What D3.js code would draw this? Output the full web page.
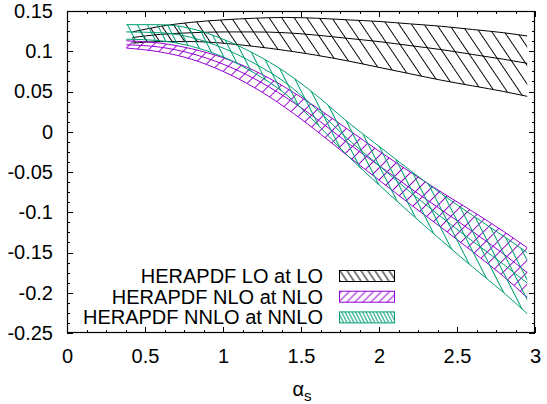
<!DOCTYPE html>
<html><head><meta charset="utf-8">
<script src="https://cdn.jsdelivr.net/npm/d3@7"></script>
<style>body{margin:0;background:#fff} text{font-family:"Liberation Sans",Arial,Helvetica,sans-serif;fill:#000}</style>
</head><body><svg id="c" width="547" height="404" xmlns="http://www.w3.org/2000/svg"></svg>
<script>
// ---- data ----
const alphaLO  = [0.42, 0.6, 0.8, 1.0, 1.2, 1.4, 1.6, 1.8, 2.0, 2.2, 2.4, 2.6, 2.8, 2.95];
const alphaHO  = [0.38, 0.6, 0.8, 1.0, 1.2, 1.4, 1.6, 1.8, 2.0, 2.2, 2.4, 2.6, 2.8, 2.95];
const loUpper   = [0.124, 0.131, 0.136, 0.139, 0.141, 0.142, 0.141, 0.139, 0.137, 0.134, 0.131, 0.127, 0.123, 0.119];
const loCentral = [0.117, 0.121, 0.123, 0.124, 0.124, 0.123, 0.120, 0.116, 0.112, 0.107, 0.102, 0.096, 0.090, 0.085];
const loLower   = [0.110, 0.112, 0.112, 0.110, 0.106, 0.101, 0.095, 0.088, 0.080, 0.072, 0.064, 0.057, 0.050, 0.044];
const nloUpper   = [0.113, 0.110, 0.103, 0.092, 0.076, 0.055, 0.030, 0.003, -0.024, -0.050, -0.075, -0.099, -0.124, -0.144];
const nloCentral = [0.108, 0.105, 0.097, 0.084, 0.066, 0.043, 0.016, -0.014, -0.042, -0.070, -0.097, -0.124, -0.152, -0.175];
const nloLower   = [0.104, 0.099, 0.090, 0.075, 0.055, 0.030, 0.001, -0.030, -0.060, -0.090, -0.119, -0.149, -0.180, -0.206];
const nnloUpper   = [0.133, 0.133, 0.128, 0.115, 0.097, 0.074, 0.045, 0.012, -0.018, -0.048, -0.077, -0.104, -0.130, -0.150];
const nnloCentral = [0.124, 0.123, 0.117, 0.104, 0.085, 0.061, 0.028, -0.009, -0.042, -0.075, -0.106, -0.136, -0.165, -0.188];
const nnloLower   = [0.115, 0.113, 0.106, 0.093, 0.073, 0.047, 0.010, -0.030, -0.066, -0.101, -0.135, -0.168, -0.200, -0.226];
const xTicks = [0, 0.5, 1, 1.5, 2, 2.5, 3];
const yTicks = [-0.25, -0.2, -0.15, -0.1, -0.05, 0, 0.05, 0.1, 0.15];
const legendLabels = ["HERAPDF LO at LO", "HERAPDF NLO at NLO", "HERAPDF NNLO at NNLO"];
const colors = ["#000000", "#9400d3", "#009e73"];

// ---- setup ----
const svg = d3.select("#c");
const x = d3.scaleLinear().domain([0, 3]).range([67, 535]);
const y = d3.scaleLinear().domain([-0.25, 0.15]).range([333, 11]);
const defs = svg.append("defs");

function hatch(id, color, spacing, angle) {
  const p = defs.append("pattern").attr("id", id).attr("patternUnits", "userSpaceOnUse")
    .attr("width", spacing).attr("height", spacing).attr("patternTransform", `rotate(${angle})`);
  p.append("line").attr("x1", spacing / 2).attr("x2", spacing / 2).attr("y1", -1).attr("y2", spacing + 1)
    .attr("stroke", color).attr("stroke-width", 1);
}
// plot patterns
hatch("pLO", colors[0], 10.4, -34);
hatch("pNLO", colors[1], 8.5, 45);
hatch("pNNLO", colors[2], 8.9, -27);
// legend patterns
hatch("kLO", colors[0], 5.8, -34);
hatch("kNLO", colors[1], 5.7, 45);
hatch("kNNLO", colors[2], 3.1, -27);

const bands = [
  {alpha: alphaLO, up: loUpper, mid: loCentral, lo: loLower, pat: "pLO", key: "kLO", color: colors[0]},
  {alpha: alphaHO, up: nloUpper, mid: nloCentral, lo: nloLower, pat: "pNLO", key: "kNLO", color: colors[1]},
  {alpha: alphaHO, up: nnloUpper, mid: nnloCentral, lo: nnloLower, pat: "pNNLO", key: "kNNLO", color: colors[2]}
];

const curve = d3.curveMonotoneX;
const gPlot = svg.append("g");
bands.forEach(b => {
  const pts = b.alpha.map((a, i) => ({a, u: b.up[i], m: b.mid[i], l: b.lo[i]}));
  gPlot.append("path").datum(pts)
    .attr("d", d3.area().curve(curve).x(d => x(d.a)).y0(d => y(d.l)).y1(d => y(d.u)))
    .attr("fill", `url(#${b.pat})`).attr("stroke", "none");
  ["u", "m", "l"].forEach(k => {
    gPlot.append("path").datum(pts)
      .attr("d", d3.line().curve(curve).x(d => x(d.a)).y(d => y(d[k])))
      .attr("fill", "none").attr("stroke", b.color).attr("stroke-width", 1);
  });
});

// ---- axes ----
const xMinor = d3.range(0, 3.0001, 0.125);
const yMinor = d3.range(-0.25, 0.15001, 0.0125);
const gA = svg.append("g");
function ticksOn(axisFn, scale, vals, size, tr) {
  const g = gA.append("g").attr("transform", tr)
    .call(axisFn(scale).tickValues(vals).tickSize(-size).tickFormat(""));
  g.select(".domain").remove();
  g.selectAll("line").attr("stroke", "#000").attr("shape-rendering", "crispEdges");
}
ticksOn(d3.axisBottom, x, xMinor, 3, "translate(0,333)");
ticksOn(d3.axisBottom, x, xTicks, 6, "translate(0,333)");
ticksOn(d3.axisTop, x, xMinor, 3, "translate(0,11)");
ticksOn(d3.axisTop, x, xTicks, 6, "translate(0,11)");
ticksOn(d3.axisLeft, y, yMinor, 3, "translate(67,0)");
ticksOn(d3.axisLeft, y, yTicks, 6, "translate(67,0)");
ticksOn(d3.axisRight, y, yMinor, 3, "translate(535,0)");
ticksOn(d3.axisRight, y, yTicks, 6, "translate(535,0)");

const fmt = d => String(+d.toFixed(3));
const gx = gA.append("g").attr("transform", "translate(0,333)")
  .call(d3.axisBottom(x).tickValues(xTicks).tickSize(0).tickPadding(16).tickFormat(fmt));
const gy = gA.append("g").attr("transform", "translate(67,0)")
  .call(d3.axisLeft(y).tickValues(yTicks).tickSize(0).tickPadding(14).tickFormat(fmt));
[gx, gy].forEach(g => {
  g.select(".domain").remove();
  g.selectAll("text").attr("font-size", 20).attr("font-family", null).attr("fill", "#000");
});

svg.append("rect").attr("x", 67.5).attr("y", 11.5).attr("width", 467).attr("height", 321)
  .attr("fill", "none").attr("stroke", "#000").attr("stroke-width", 1.2);

// axis title
const t = svg.append("text").attr("x", 302).attr("y", 396).attr("text-anchor", "middle").attr("font-size", 20);
t.append("tspan").text("α");
t.append("tspan").attr("font-size", 15).attr("dy", 5).text("s");

// ---- legend ----
const rowY = [276, 296.7, 317.4];
legendLabels.forEach((lab, i) => {
  svg.append("text").attr("x", 323).attr("y", rowY[i] + 7).attr("text-anchor", "end")
    .attr("font-size", 20).text(lab);
  svg.append("rect").attr("x", 339.5).attr("y", rowY[i] - 5.5).attr("width", 55).attr("height", 11)
    .attr("fill", `url(#${bands[i].key})`).attr("stroke", bands[i].color).attr("stroke-width", 1);
});
</script></body></html>
